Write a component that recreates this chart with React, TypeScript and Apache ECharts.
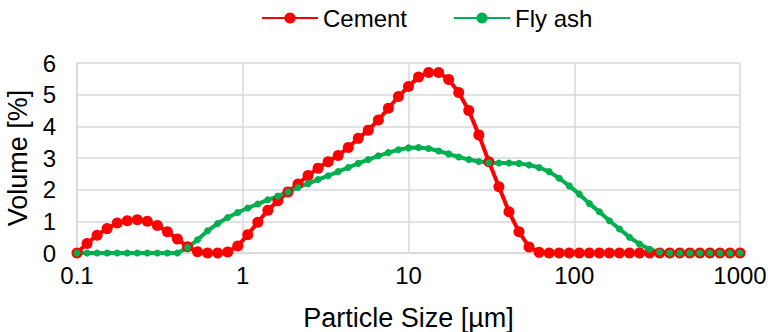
import React, { useEffect, useRef } from "react";
import * as echarts from "echarts";

// Particle size classes (µm), log-spaced bins
const particleSizes = [
  0.1, 0.115, 0.1322, 0.152, 0.1748, 0.2009, 0.231, 0.2656, 0.3054, 0.3511,
  0.4037, 0.4642, 0.5337, 0.6136, 0.7055, 0.8111, 0.9326, 1.0723, 1.2328, 1.4175,
  1.6298, 1.8738, 2.1544, 2.4771, 2.848, 3.2745, 3.7649, 4.3288, 4.977, 5.7224,
  6.5793, 7.5646, 8.6975, 10.0, 11.498, 13.219, 15.199, 17.475, 20.092, 23.101,
  26.561, 30.539, 35.112, 40.37, 46.416, 53.367, 61.359, 70.548, 81.113, 93.26,
  107.23, 123.28, 141.75, 162.98, 187.38, 215.44, 247.71, 284.8, 327.45, 376.49,
  432.88, 497.7, 572.24, 657.93, 756.46, 869.75, 1000,
];

// Volume fraction (%) per size class
const cementVolume = [
  0, 0.3, 0.56, 0.77, 0.95, 1.02, 1.05, 1.0, 0.87, 0.67,
  0.44, 0.2, 0.04, 0, 0, 0.03, 0.22, 0.58, 0.97, 1.35,
  1.65, 1.93, 2.18, 2.45, 2.68, 2.88, 3.08, 3.33, 3.62, 3.88,
  4.2, 4.57, 4.94, 5.26, 5.56, 5.7, 5.7, 5.48, 5.07, 4.5,
  3.73, 2.88, 2.09, 1.3, 0.67, 0.19, 0.02, 0, 0, 0,
  0, 0, 0, 0, 0, 0, 0, 0, 0, 0,
  0, 0, 0, 0, 0, 0, 0,
];

const flyAshVolume = [
  0, 0, 0, 0, 0, 0, 0, 0, 0, 0,
  0, 0.17, 0.42, 0.7, 0.93, 1.12, 1.28, 1.42, 1.55, 1.68,
  1.8, 1.93, 2.07, 2.19, 2.32, 2.44, 2.57, 2.7, 2.83, 2.95,
  3.07, 3.17, 3.26, 3.32, 3.33, 3.3, 3.22, 3.13, 3.03, 2.95,
  2.89, 2.85, 2.84, 2.84, 2.83, 2.78, 2.7, 2.57, 2.36, 2.12,
  1.86, 1.56, 1.3, 1.02, 0.76, 0.5, 0.28, 0.12, 0.03, 0,
  0, 0, 0, 0, 0, 0, 0,
];

const xTickLabels = ["0.1", "1", "10", "100", "1000"];
const seriesNames = ["Cement", "Fly ash"];

const FONT = "'Liberation Sans', Arial, sans-serif";

export default function App() {
  const ref = useRef<HTMLDivElement>(null);

  useEffect(() => {
    if (!ref.current) return;
    const chart = echarts.init(ref.current, null, { renderer: "svg" });

    const pairs = (ys: number[]) => particleSizes.map((x, i) => [x, ys[i]]);

    chart.setOption({
      animation: false,
      backgroundColor: "#ffffff",
      textStyle: { fontFamily: FONT },
      legend: {
        top: 1,
        left: 256,
        itemWidth: 56,
        itemHeight: 14,
        itemGap: 46,
        textStyle: { fontFamily: FONT, fontSize: 24, color: "#000" },
        data: seriesNames,
      },
      grid: {
        left: 77,
        right: 28,
        top: 63,
        bottom: 79,
        containLabel: false,
        outerBoundsMode: "none",
      },
      xAxis: {
        type: "log",
        logBase: 10,
        min: 0.1,
        max: 1000,
        name: "Particle Size [µm]",
        nameLocation: "middle",
        nameGap: 51,
        nameTextStyle: { fontFamily: FONT, fontSize: 27, color: "#000" },
        axisLine: { show: true, lineStyle: { color: "#d9d9d9", width: 1.5 } },
        axisTick: { show: false },
        minorTick: { show: false },
        splitLine: { show: true, lineStyle: { color: "#d9d9d9", width: 1.5 } },
        axisLabel: {
          fontFamily: FONT,
          fontSize: 24,
          color: "#000",
          margin: 10,
          formatter: (v: number) => xTickLabels[Math.round(Math.log10(v)) + 1] ?? "",
        },
      },
      yAxis: {
        type: "value",
        min: 0,
        max: 6,
        interval: 1,
        name: "Volume [%]",
        nameLocation: "middle",
        nameGap: 46,
        nameTextStyle: { fontFamily: FONT, fontSize: 27, color: "#000" },
        axisLine: { show: true, lineStyle: { color: "#d9d9d9", width: 1.5 } },
        axisTick: { show: false },
        splitLine: { show: true, lineStyle: { color: "#d9d9d9", width: 1.5 } },
        axisLabel: { fontFamily: FONT, fontSize: 24, color: "#000", margin: 21 },
      },
      series: [
        {
          name: seriesNames[0],
          type: "line",
          data: pairs(cementVolume),
          symbol: "circle",
          symbolSize: 11,
          showAllSymbol: true,
          itemStyle: { color: "#ff0000" },
          lineStyle: { color: "#ff0000", width: 4 },
        },
        {
          name: seriesNames[1],
          type: "line",
          data: pairs(flyAshVolume),
          symbol: "circle",
          symbolSize: 7,
          showAllSymbol: true,
          itemStyle: { color: "#00b050" },
          lineStyle: { color: "#00b050", width: 4 },
        },
      ],
    });

    return () => chart.dispose();
  }, []);

  return (
    <div
      ref={ref}
      style={{ position: "absolute", left: 0, top: 0, width: 768, height: 332 }}
    />
  );
}
